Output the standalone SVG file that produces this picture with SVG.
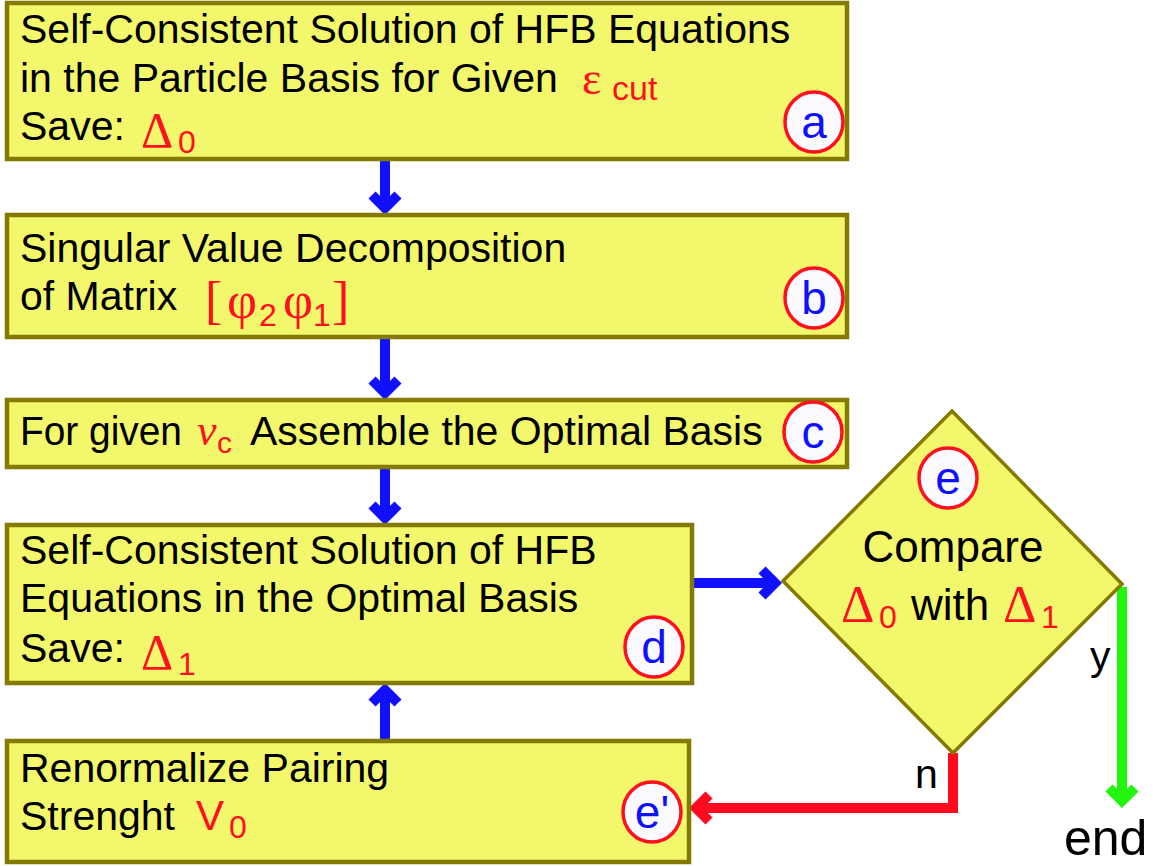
<svg xmlns="http://www.w3.org/2000/svg" width="1168" height="866" viewBox="0 0 1168 866">
<style>
.box{fill:#f3f76b;stroke:#857a00;stroke-width:4.5}
.t{font-family:"Liberation Sans",Arial,sans-serif;font-size:41px;fill:#000}
.m{font-family:"Liberation Serif","Times New Roman",serif;fill:#ff1020}
.ms{font-family:"Liberation Sans",Arial,sans-serif;fill:#ff1020}
.tag{fill:#fbfbff;stroke:#ff1020;stroke-width:3.5}
.tl{font-family:"Liberation Sans",Arial,sans-serif;font-size:46px;fill:#1010ff;text-anchor:middle}
.blue{fill:none;stroke:#1010ff;stroke-width:10}
.red{fill:none;stroke:#ff0a1e;stroke-width:10}
.green{fill:none;stroke:#22f50e;stroke-width:10}
</style>
<rect width="1168" height="866" fill="#fff"/>
<g id="connectors">
<path class="blue" d="M385 159V208M372 195L385 208L398 195"/>
<path class="blue" d="M385 337V393M372 380L385 393L398 380"/>
<path class="blue" d="M385 467V518M372 505L385 518L398 505"/>
<path class="blue" d="M385 741V690M372 703L385 690L398 703"/>
<path class="blue" d="M692 583H775M762 570L775 583L762 596"/>
<path class="red" d="M953 753V808H696M709 795L696 808L709 821"/>
<path class="green" d="M1122 587V801M1109 788L1122 801L1135 788"/>
<text class="t" x="1090" y="670">y</text>
<text class="t" x="915" y="788">n</text>
<text class="t" x="1064" y="855" style="font-size:50px">end</text>
</g>
<g id="node-a">
<rect class="box" x="7" y="3" width="840" height="156"/>
<text class="t" x="20" y="43">Self-Consistent Solution of HFB Equations</text>
<text class="t" x="20" y="92">in the Particle Basis for Given</text>
<text class="m" x="582" y="94" style="font-size:46px">ε</text>
<text class="ms" x="612" y="100" style="font-size:34px">cut</text>
<text class="t" x="20" y="140">Save:</text>
<text class="m" x="141" y="147" style="font-size:50px">Δ</text>
<text class="ms" x="178" y="153" style="font-size:32px">0</text>
<ellipse class="tag" cx="814" cy="122" rx="29" ry="30"/>
<text class="tl" x="814" y="138">a</text>
</g>
<g id="node-b">
<rect class="box" x="7" y="215" width="840" height="122"/>
<text class="t" x="20" y="262">Singular Value Decomposition</text>
<text class="t" x="20" y="310">of Matrix</text>
<text class="m" x="205" y="318" style="font-size:52px">[</text>
<text class="m" x="227" y="318" style="font-size:52px">φ</text>
<text class="ms" x="259" y="326" style="font-size:32px">2</text>
<text class="m" x="283" y="318" style="font-size:52px">φ</text>
<text class="ms" x="313" y="326" style="font-size:32px">1</text>
<text class="m" x="332" y="318" style="font-size:52px">]</text>
<ellipse class="tag" cx="814" cy="298" rx="29" ry="30"/>
<text class="tl" x="814" y="314">b</text>
</g>
<g id="node-c">
<rect class="box" x="7" y="400" width="840" height="67"/>
<text class="t" x="20" y="445" textLength="162" lengthAdjust="spacingAndGlyphs">For given</text>
<text class="m" x="197" y="445" style="font-size:44px;font-style:italic">v</text>
<text class="ms" x="217" y="453" style="font-size:30px">c</text>
<text class="t" x="250" y="445">Assemble the Optimal Basis</text>
<ellipse class="tag" cx="813" cy="432" rx="29" ry="30"/>
<text class="tl" x="813" y="448">c</text>
</g>
<g id="node-d">
<rect class="box" x="7" y="525" width="685" height="158"/>
<text class="t" x="20" y="564">Self-Consistent Solution of HFB</text>
<text class="t" x="20" y="612">Equations in the Optimal Basis</text>
<text class="t" x="20" y="662">Save:</text>
<text class="m" x="141" y="669" style="font-size:50px">Δ</text>
<text class="ms" x="178" y="675" style="font-size:32px">1</text>
<ellipse class="tag" cx="654" cy="647" rx="29" ry="30"/>
<text class="tl" x="654" y="663">d</text>
</g>
<g id="node-e">
<path class="box" d="M952 411L1122 584L953 753L783 581Z" style="stroke-width:3.5"/>
<ellipse class="tag" cx="948" cy="478" rx="29" ry="30"/>
<text class="tl" x="948" y="494">e</text>
<text class="t" x="953" y="562" style="font-size:44px;text-anchor:middle">Compare</text>
<text class="m" x="841" y="622" style="font-size:52px">Δ</text>
<text class="ms" x="879" y="628" style="font-size:32px">0</text>
<text class="t" x="911" y="620" style="font-size:44px">with</text>
<text class="m" x="1003" y="622" style="font-size:52px">Δ</text>
<text class="ms" x="1041" y="628" style="font-size:32px">1</text>
</g>
<g id="node-e-prime">
<rect class="box" x="7" y="741" width="682" height="121"/>
<text class="t" x="20" y="782">Renormalize Pairing</text>
<text class="t" x="20" y="830">Strenght</text>
<text class="ms" x="196" y="830" style="font-size:42px">V</text>
<text class="ms" x="229" y="838" style="font-size:32px">0</text>
<ellipse class="tag" cx="652" cy="812" rx="29" ry="30"/>
<text class="tl" x="652" y="828">e'</text>
</g>
</svg>
